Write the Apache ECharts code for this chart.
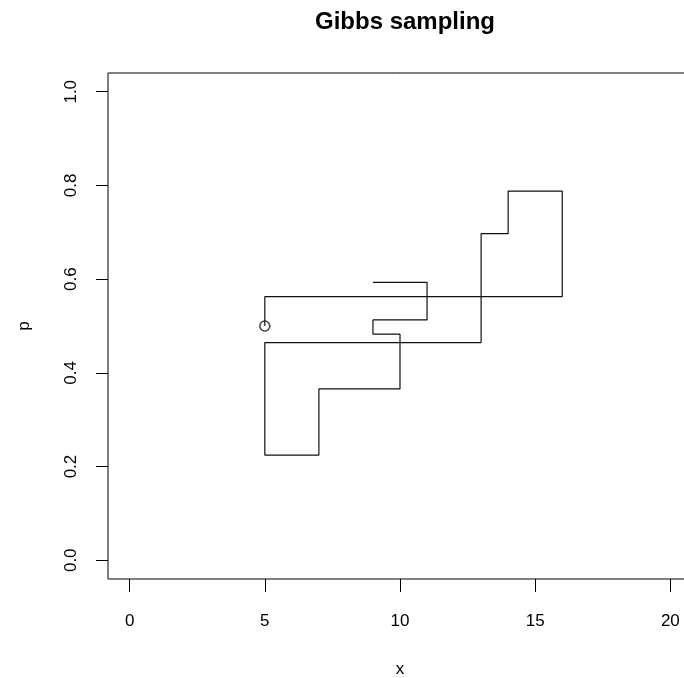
<!doctype html>
<html lang="en">
<head>
    <meta charset="UTF-8">
    <title>Gibbs sampling</title>
    <script src="https://cdn.jsdelivr.net/npm/echarts@6.0.0/dist/echarts.min.js"></script>
    <style>
        html, body { margin: 0; padding: 0; background: #fff; }
        #chart { width: 684px; height: 678px; }
    </style>
</head>
<body>
<div id="chart"></div>
<script>
    // sampler path: x and p alternate, starting point marked with a circle
    const xPath = [5, 5, 16, 16, 14, 14, 13, 13, 5, 5, 7, 7, 10, 10, 9, 9, 11, 11, 9]
    const pPath = [0.5, 0.5625, 0.5625, 0.788, 0.788, 0.697, 0.697, 0.4646, 0.4646, 0.2245,
        0.2245, 0.3656, 0.3656, 0.4826, 0.4826, 0.513, 0.513, 0.593, 0.593]
    const xTicks = [0, 5, 10, 15, 20]
    const pTicks = [0, 0.2, 0.4, 0.6, 0.8, 1.0]

    const chart = echarts.init(document.getElementById('chart'))
    const font = 'Liberation Sans, Arial, sans-serif'

    const option = {
        backgroundColor: '#fff',
        animation: false,
        title: {
            text: 'Gibbs sampling',
            left: 400,
            top: 5,
            textAlign: 'center',
            textStyle: { fontFamily: font, fontSize: 24, fontWeight: 'bold', color: '#000' }
        },
        grid: {
            left: 108, top: 73, width: 584, height: 506,
            outerBoundsMode: 'none',
            containLabel: false,
            show: true, borderColor: '#000', borderWidth: 1, backgroundColor: 'transparent'
        },
        xAxis: {
            type: 'value',
            min: -0.8, max: 20.8,
            name: 'x',
            nameLocation: 'middle',
            nameGap: 82,
            nameTextStyle: { fontFamily: font, fontSize: 17, color: '#000' },
            axisLine: { show: false, onZero: false },
            splitLine: { show: false },
            axisTick: { show: true, inside: false, length: 13, customValues: xTicks, lineStyle: { color: '#000' } },
            axisLabel: {
                customValues: xTicks, margin: 34,
                fontFamily: font, fontSize: 17, color: '#000'
            }
        },
        yAxis: {
            type: 'value',
            min: -0.04, max: 1.04,
            name: 'p',
            nameLocation: 'middle',
            nameGap: 75,
            nameRotate: 90,
            nameTextStyle: { fontFamily: font, fontSize: 17, color: '#000' },
            axisLine: { show: false, onZero: false },
            splitLine: { show: false },
            axisTick: { show: true, inside: false, length: 12, customValues: pTicks, lineStyle: { color: '#000' } },
            axisLabel: {
                customValues: pTicks, margin: 28, rotate: 90,
                fontFamily: font, fontSize: 17, color: '#000',
                formatter: v => v.toFixed(1)
            }
        },
        series: [
            {
                type: 'line',
                data: xPath.map((x, i) => [x, pPath[i]]),
                showSymbol: false,
                lineStyle: { color: '#111', width: 1.2 }
            },
            {
                type: 'scatter',
                data: [[xPath[0], pPath[0]]],
                symbol: 'circle',
                symbolSize: 10,
                itemStyle: { color: 'rgba(255,255,255,0)', borderColor: '#111', borderWidth: 1.5 }
            }
        ]
    }
    chart.setOption(option)
</script>
</body>
</html>
